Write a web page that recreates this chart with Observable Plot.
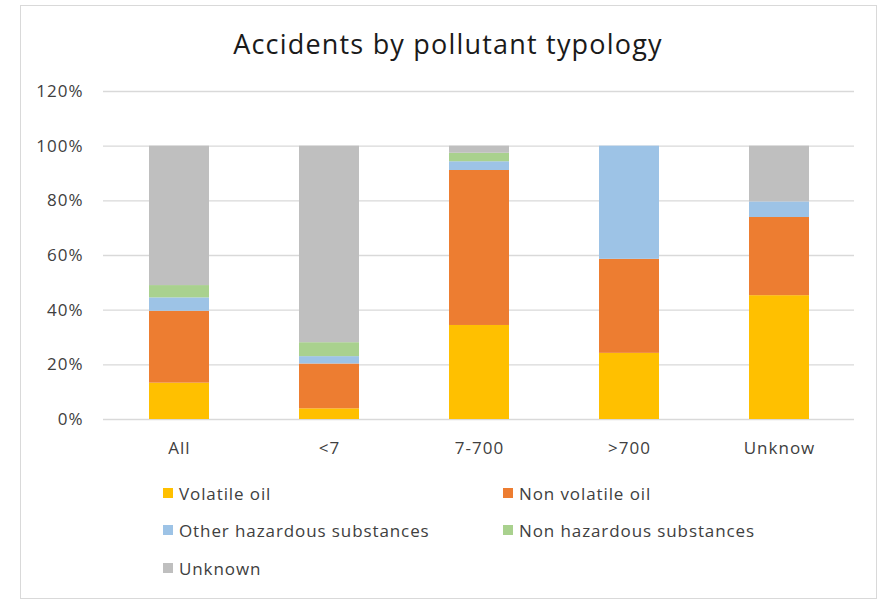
<!DOCTYPE html>
<html>
<head>
<meta charset="utf-8">
<script src="https://cdn.jsdelivr.net/npm/d3@7"></script>
<script src="https://cdn.jsdelivr.net/npm/@observablehq/plot@0.6"></script>
<style>
  html, body { margin: 0; padding: 0; background: #fff; }
  body { width: 884px; height: 605px; position: relative; overflow: hidden; font-family: "Open Sans", Lato, sans-serif; }
  #frame { position: absolute; left: 20px; top: 5px; width: 857px; height: 594px; border: 1.5px solid #d9d9d9; box-sizing: border-box; }
  #title { position: absolute; left: 0; width: 896px; top: 25px; text-align: center; font-size: 27px; color: #1a1a1a; letter-spacing: 1.2px; }
  #chart { position: absolute; left: 0; top: 0; }
  #chart svg text { letter-spacing: 1px; }
  .leg { position: absolute; font-size: 17px; color: #404040; display: flex; align-items: center; white-space: nowrap; letter-spacing: 0.9px; }
  .leg span.sw { display: inline-block; width: 10px; height: 10px; margin-right: 6px; }
</style>
</head>
<body>
<div id="frame"></div>
<div id="title">Accidents by pollutant typology</div>
<div id="chart"></div>
<div id="legend"></div>
<script>
const categories = ["All", "<7", "7-700", ">700", "Unknow"];
const series = ["Volatile oil", "Non volatile oil", "Other hazardous substances", "Non hazardous substances", "Unknown"];
const colors = ["#FFC000", "#ED7D31", "#9DC3E6", "#A9D18E", "#BFBFBF"];
const volatileOil      = [13.3,  3.9, 34.4, 24.2, 45.3];
const nonVolatileOil   = [26.3, 16.4, 56.7, 34.4, 28.6];
const otherHazardous   = [ 4.9,  2.7,  3.2, 41.4,  5.7];
const nonHazardous     = [ 4.5,  5.1,  3.1,  0.0,  0.0];
const unknownShare     = [51.0, 71.9,  2.6,  0.0, 20.4];
const yTicks = [0, 0.2, 0.4, 0.6, 0.8, 1.0, 1.2];

const seriesValues = [volatileOil, nonVolatileOil, otherHazardous, nonHazardous, unknownShare];
const data = [];
series.forEach((s, i) => {
  categories.forEach((c, j) => {
    data.push({category: c, series: s, value: seriesValues[i][j] / 100});
  });
});

const chart = Plot.plot({
  width: 884,
  height: 465,
  marginTop: 91,
  marginBottom: 46,
  marginLeft: 103,
  marginRight: 30,
  style: {fontFamily: "'Open Sans', Lato, sans-serif", fontSize: "17px", color: "#404040", background: "transparent"},
  x: {domain: categories, label: null, paddingInner: 0.6, paddingOuter: 0.3, tickSize: 0, tickPadding: 22},
  y: {domain: [0, 1.2], ticks: yTicks, tickFormat: d => Math.round(d * 100) + "%", label: null, tickSize: 0, tickPadding: 20},
  color: {domain: series, range: colors},
  marks: [
    Plot.ruleY(yTicks, {stroke: "#d9d9d9", strokeWidth: 1.3}),
    Plot.barY(data, {x: "category", y: "value", fill: "series", order: series, inset: 0})
  ]
});
document.getElementById("chart").appendChild(chart);

// legend
const legPos = [[163, 493], [503, 493], [163, 530], [503, 530], [163, 568]];
const legend = document.getElementById("legend");
series.forEach((s, i) => {
  const d = document.createElement("div");
  d.className = "leg";
  d.style.left = legPos[i][0] + "px";
  d.style.top = (legPos[i][1] - 11) + "px";
  d.style.height = "22px";
  d.innerHTML = `<span class="sw" style="background:${colors[i]}"></span>`;
  d.appendChild(document.createTextNode(s));
  legend.appendChild(d);
});
</script>
</body>
</html>
